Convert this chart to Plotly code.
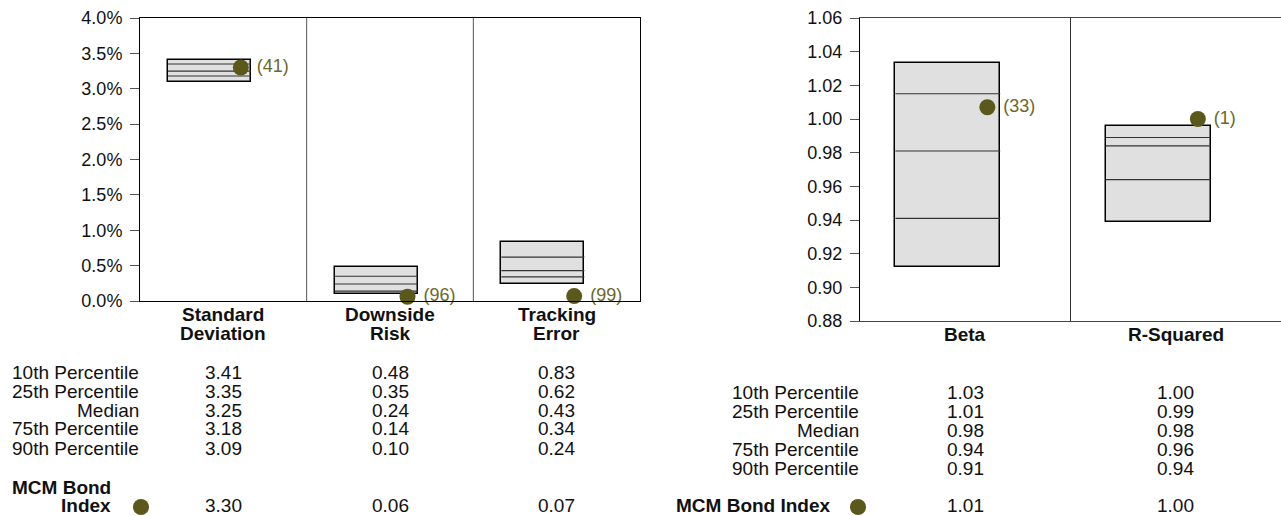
import plotly.graph_objects as go

# ---------------- data ----------------
left_cats = [["Standard", "Deviation"], ["Downside", "Risk"], ["Tracking", "Error"]]
left_p10 = [3.41, 0.48, 0.83]
left_p25 = [3.35, 0.35, 0.62]
left_med = [3.25, 0.24, 0.43]
left_p75 = [3.18, 0.14, 0.34]
left_p90 = [3.09, 0.10, 0.24]
left_idx = [3.30, 0.06, 0.07]
left_rank = ["(41)", "(96)", "(99)"]
left_ticks = [0.0, 0.5, 1.0, 1.5, 2.0, 2.5, 3.0, 3.5, 4.0]

right_cats = ["Beta", "R-Squared"]
right_p10 = [1.033, 0.996]
right_p25 = [1.015, 0.989]
right_med = [0.981, 0.984]
right_p75 = [0.941, 0.964]
right_p90 = [0.912, 0.939]
right_idx = [1.007, 1.000]
right_rank = ["(33)", "(1)"]
right_ticks = [0.88, 0.90, 0.92, 0.94, 0.96, 0.98, 1.00, 1.02, 1.04, 1.06]

row_labels = ["10th Percentile", "25th Percentile", "Median", "75th Percentile", "90th Percentile"]
index_name = "MCM Bond Index"

# ---------------- style ----------------
W, H = 1281, 516
T, B = 18, 195
PH = H - T - B
FONT = "Liberation Sans, Arial, sans-serif"
FS = 19
DOT = "#5b581c"
DOT_TXT = "#6b6829"
BOX_FILL = "#e0e0e0"

def py(pix):
    return (H - B - pix) / PH

BOX_L, BOX_R, DOT_X = 0.168, 0.666, 0.605

fig = go.Figure()

def add_panel(xa, ya, p10, p25, med, p75, p90, idx, rank):
    n = len(p10)
    xs = [i + (BOX_L + BOX_R) / 2 for i in range(n)]
    fig.add_trace(go.Bar(
        x=xs, y=[a - b for a, b in zip(p10, p90)], base=p90,
        width=BOX_R - BOX_L, marker=dict(color=BOX_FILL, line=dict(color="black", width=1.5)),
        xaxis=xa, yaxis=ya, showlegend=False, hoverinfo="skip"))
    lx, ly = [], []
    for i in range(n):
        for v in (p25[i], med[i], p75[i]):
            lx += [i + BOX_L, i + BOX_R, None]
            ly += [v, v, None]
    fig.add_trace(go.Scatter(x=lx, y=ly, mode="lines", line=dict(color="#333", width=1.2),
                             xaxis=xa, yaxis=ya, showlegend=False, hoverinfo="skip"))
    fig.add_trace(go.Scatter(
        x=[i + DOT_X for i in range(n)], y=idx, mode="markers+text",
        marker=dict(color=DOT, size=16), text=[" " + r for r in rank],
        textposition="middle right", textfont=dict(color=DOT_TXT, size=FS - 1, family=FONT),
        xaxis=xa, yaxis=ya, showlegend=False, cliponaxis=False))

add_panel("x", "y", left_p10, left_p25, left_med, left_p75, left_p90, left_idx, left_rank)
add_panel("x2", "y2", right_p10, right_p25, right_med, right_p75, right_p90, right_idx, right_rank)

L0, L1 = 140 / W, 640 / W
R0, R1 = 860 / W, 1.0
left_bottom = py(301)

fig.update_layout(
    width=W, height=H, margin=dict(l=0, r=0, t=T, b=B),
    paper_bgcolor="white", plot_bgcolor="white",
    font=dict(family=FONT, size=FS - 1, color="#111"),
    showlegend=False, bargap=0,
    xaxis=dict(domain=[L0, L1], range=[0, 3], showticklabels=False, ticks="",
               showline=True, linecolor="black", linewidth=1, mirror=True,
               showgrid=False, zeroline=False, anchor="y"),
    yaxis=dict(domain=[left_bottom, 1], range=[0, 4], tickvals=left_ticks,
               ticktext=[f"{v:.1f}%" for v in left_ticks], ticks="outside", ticklen=9,
               ticklabelstandoff=4,
               tickcolor="#555", showline=True, linecolor="black", linewidth=1,
               mirror=True, showgrid=False, zeroline=False, anchor="x"),
    xaxis2=dict(domain=[R0, R1], range=[0, 2], showticklabels=False, ticks="",
                showline=True, linecolor="#444", linewidth=1, mirror=True,
                showgrid=False, zeroline=False, anchor="y2"),
    yaxis2=dict(domain=[0, 1], range=[0.88, 1.06], tickvals=right_ticks,
                ticktext=[f"{v:.2f}" for v in right_ticks], ticks="outside", ticklen=9,
                ticklabelstandoff=4,
                tickcolor="#555", showline=True, linecolor="black", linewidth=1,
                mirror=False, showgrid=False, zeroline=False, anchor="x2"),
)

shapes = []
for k in (1, 2):
    shapes.append(dict(type="line", xref="x", yref="y domain", x0=k, x1=k, y0=0, y1=1,
                       line=dict(color="#555", width=1)))
shapes.append(dict(type="line", xref="x2", yref="y2 domain", x0=1, x1=1, y0=0, y1=1,
                   line=dict(color="#333", width=1)))

ann = []
def txt(x, y, s, xref="paper", xanchor="center", bold=False):
    ann.append(dict(x=x, y=py(y), xref=xref, yref="paper", text=("<b>" + s + "</b>") if bold else s,
                    showarrow=False, xanchor=xanchor, yanchor="middle", borderpad=0,
                    font=dict(size=FS, family=FONT, color="#111")))

# category labels
for i, (a, b) in enumerate(left_cats):
    txt(i + 0.5, 314, a, xref="x", bold=True)
    txt(i + 0.5, 333, b, xref="x", bold=True)
for i, c in enumerate(right_cats):
    txt(i + 0.5, 334, c, xref="x2", bold=True)

BOT = 505
# left table
left_rows_y = [372, 391, 410, 429, 448]
for r, lab in enumerate(row_labels):
    txt(L0, left_rows_y[r], lab, xanchor="right")
for i, vals in enumerate(zip(left_p10, left_p25, left_med, left_p75, left_p90)):
    for r, v in enumerate(vals):
        txt(i + 0.5, left_rows_y[r], f"{v:.2f}", xref="x")
    txt(i + 0.5, BOT, f"{left_idx[i]:.2f}", xref="x")
txt(112 / W, 487, "MCM Bond", xanchor="right", bold=True)
txt(112 / W, BOT, "Index", xanchor="right", bold=True)

# right table
right_rows_y = [392, 411, 430, 449, 468]
for r, lab in enumerate(row_labels):
    txt(R0, right_rows_y[r], lab, xanchor="right")
for i, vals in enumerate(zip(right_p10, right_p25, right_med, right_p75, right_p90)):
    for r, v in enumerate(vals):
        txt(i + 0.5, right_rows_y[r], f"{v:.2f}", xref="x2")
    txt(i + 0.5, BOT, f"{right_idx[i]:.2f}", xref="x2")
txt(832 / W, BOT, index_name, xanchor="right", bold=True)

for cx in (141, 858):
    shapes.append(dict(type="circle", xref="paper", yref="paper", xsizemode="pixel",
                       ysizemode="pixel", xanchor=cx / W, yanchor=py(507),
                       x0=-8, x1=8, y0=-8, y1=8, fillcolor=DOT, line=dict(width=0)))

fig.update_layout(shapes=shapes, annotations=ann)
fig.write_html("out.html", config={"displayModeBar": False},
               post_script="document.body.style.margin='0px';"
               "document.body.style.overflow='hidden';")
